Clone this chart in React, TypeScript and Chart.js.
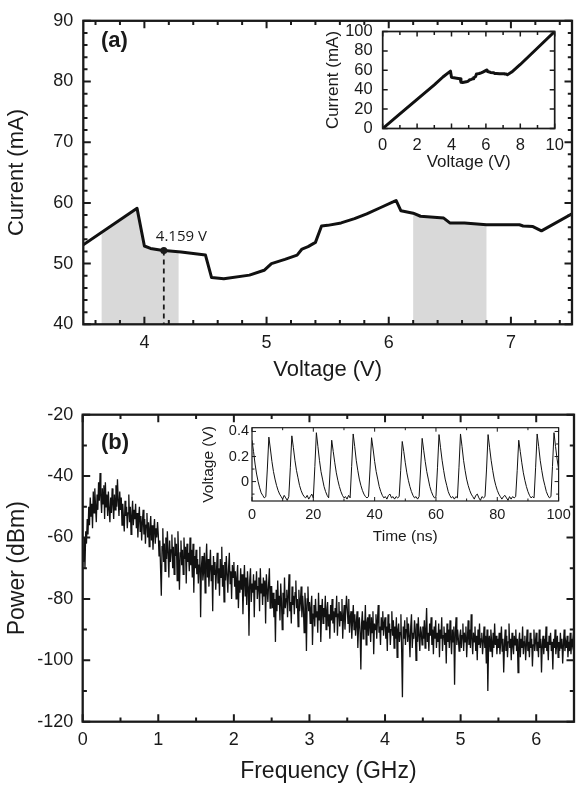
import React, { useEffect, useRef } from "react";
import { Chart, registerables } from "chart.js";

Chart.register(...registerables);

const FONT = '"Liberation Sans", Arial, Helvetica, sans-serif';
const INK = "#1a1a1a";

// ---------------- Panel (a): current vs voltage ----------------
const voltA = [3.5, 3.94, 4.0, 4.05, 4.14, 4.3, 4.5, 4.55, 4.65, 4.86, 4.98, 5.04, 5.15, 5.25, 5.29, 5.34, 5.4, 5.45, 5.5, 5.61, 5.72, 5.82, 5.93, 6.04, 6.06, 6.1, 6.2, 6.26, 6.45, 6.5, 6.62, 6.8, 7.07, 7.1, 7.18, 7.25, 7.5];
const currA = [53.1, 59.1, 52.9, 52.5, 52.2, 51.9, 51.4, 47.7, 47.5, 48.1, 48.9, 50.0, 50.7, 51.4, 52.4, 52.8, 53.5, 56.2, 56.3, 56.7, 57.4, 58.2, 59.2, 60.2, 60.4, 58.7, 58.3, 57.8, 57.5, 56.7, 56.7, 56.4, 56.4, 56.2, 56.1, 55.4, 58.2];
const markerVolt = 4.159;
const markerCurr = 52.15;
const markerLabel = "4.159 V";
const shadeFrom = [3.65, 6.2];
const shadeTo = [4.28, 6.8];
const xTicksA = [4, 5, 6, 7];
const yTicksA = [40, 50, 60, 70, 80, 90];

// inset of (a): full sweep 0–10 V
const insetVoltA = [0, 1, 2, 3, ...voltA, 8, 9, 10];
const insetCurrA = [0, 15, 30, 45, ...currA, 66, 83, 100];
const xTicksIA = [0, 2, 4, 6, 8, 10];
const yTicksIA = [0, 20, 40, 60, 80, 100];

// ---------------- Panel (b): power spectrum ----------------
const freqStep = 0.01; // GHz per sample
const powerB = [
  // 0.00 – 0.49
  -64, -68, -60, -70, -58, -62, -54, -59, -50, -56, -47, -53, -49, -57, -45, -52, -44, -50, -55, -46,
  -51, -42, -48, -39, -47, -52, -44, -49, -43, -54, -42, -50, -46, -53, -45, -51, -55, -47, -52, -44,
  -49, -54, -46, -51, -43, -50, -41, -48, -53, -45,
  // 0.50 – 0.99
  -51, -47, -56, -49, -54, -58, -48, -53, -50, -57, -52, -46, -55, -50, -59, -53, -48, -56, -51, -54,
  -49, -57, -52, -60, -54, -50, -58, -53, -61, -55, -51, -59, -54, -62, -56, -52, -60, -55, -63, -57,
  -53, -61, -56, -64, -58, -54, -62, -57, -60, -55,
  // 1.00 – 1.49
  -59, -66, -61, -70, -79, -63, -57, -68, -62, -71, -60, -67, -58, -65, -73, -61, -68, -64, -59, -70,
  -63, -72, -60, -66, -62, -74, -58, -67, -77, -65, -61, -69, -64, -72, -60, -67, -63, -75, -62, -68,
  -65, -71, -60, -69, -64, -73, -62, -78, -66, -70,
  // 1.50 – 1.99
  -64, -72, -67, -75, -69, -63, -86, -70, -66, -74, -71, -65, -78, -68, -62, -73, -67, -76, -70, -64,
  -74, -69, -84, -66, -72, -68, -77, -71, -65, -75, -70, -79, -67, -73, -63, -76, -69, -81, -68, -74,
  -66, -72, -78, -70, -65, -75, -71, -80, -69, -73,
  // 2.00 – 2.49
  -68, -76, -71, -80, -73, -69, -83, -74, -78, -70, -77, -72, -85, -75, -69, -79, -73, -82, -71, -76,
  -92, -74, -70, -81, -75, -78, -72, -86, -74, -77, -71, -80, -76, -73, -84, -70, -78, -75, -82, -73,
  -79, -74, -88, -72, -77, -81, -75, -70, -83, -76,
  // 2.50 – 2.99
  -76, -83, -78, -86, -80, -94, -77, -84, -74, -82, -79, -87, -75, -81, -90, -78, -85, -73, -83, -80,
  -77, -86, -79, -72, -84, -81, -88, -76, -82, -79, -85, -78, -74, -83, -80, -89, -77, -84, -81, -76,
  -86, -79, -83, -91, -78, -82, -97, -80, -76, -84,
  // 3.00 – 3.49
  -81, -88, -83, -79, -95, -85, -82, -89, -80, -86, -84, -91, -78, -87, -82, -94, -85, -80, -88, -83,
  -86, -79, -90, -84, -81, -89, -85, -93, -82, -87, -80, -88, -84, -91, -83, -86, -79, -92, -85, -81,
  -89, -84, -87, -80, -93, -86, -82, -90, -84, -79,
  // 3.50 – 3.99
  -83, -88, -80, -91, -86, -84, -93, -87, -82, -90, -85, -92, -88, -84, -96, -89, -86, -91, -103, -88,
  -84, -93, -87, -90, -82, -95, -88, -86, -92, -85, -89, -94, -86, -91, -84, -98, -88, -90, -85, -93,
  -87, -82, -91, -89, -95, -86, -90, -84, -92, -88,
  // 4.00 – 4.49
  -86, -93, -89, -97, -85, -91, -88, -95, -90, -84, -92, -87, -96, -89, -93, -86, -99, -90, -88, -94,
  -91, -85, -97, -112, -89, -93, -87, -95, -90, -86, -94, -88, -92, -99, -89, -85, -96, -91, -93, -87,
  -90, -100, -88, -94, -86, -92, -97, -89, -91, -95,
  // 4.50 – 4.99
  -89, -93, -87, -96, -90, -83, -94, -91, -97, -88, -92, -86, -95, -90, -98, -89, -93, -87, -96, -91,
  -94, -88, -99, -90, -93, -86, -97, -92, -89, -95, -91, -101, -88, -94, -90, -96, -87, -93, -98, -90,
  -94, -89, -108, -91, -86, -95, -90, -93, -97, -92,
  // 5.00 – 5.49
  -90, -96, -92, -88, -97, -91, -94, -89, -99, -93, -87, -95, -90, -96, -85, -93, -98, -91, -94, -89,
  -97, -92, -100, -90, -95, -88, -96, -93, -91, -98, -94, -89, -96, -92, -101, -90, -110, -95, -92, -97,
  -90, -94, -99, -91, -96, -88, -95, -92, -98, -93,
  // 5.50 – 5.99
  -96, -91, -98, -94, -89, -97, -93, -104, -95, -90, -97, -92, -99, -94, -88, -96, -93, -100, -91, -95,
  -98, -92, -95, -90, -97, -93, -104, -94, -91, -99, -93, -96, -89, -98, -94, -92, -100, -95, -90, -97,
  -94, -99, -91, -96, -93, -102, -95, -90, -97, -94,
  // 6.00 – 6.50
  -91, -97, -94, -99, -90, -96, -93, -104, -95, -92, -98, -93, -96, -89, -97, -94, -100, -92, -95, -91,
  -97, -94, -103, -93, -96, -90, -98, -95, -92, -99, -94, -97, -91, -96, -93, -101, -95, -90, -97, -94,
  -96, -92, -99, -94, -97, -91, -98, -93, -95, -92, -94,
];
const xTicksB = [0, 1, 2, 3, 4, 5, 6];
const yTicksB = [-120, -100, -80, -60, -40, -20];

// inset of (b): time trace
const timeStep = 0.5; // ns per sample
const voltIB = [
  0.33, 0.24, 0.14, 0.06, 0.0, -0.05, -0.09, -0.11, -0.13,
  -0.12, 0.10, 0.355, 0.26, 0.16, 0.08, 0.02, -0.03, -0.07, -0.10, -0.12,
  -0.14, -0.11, -0.13, -0.15, -0.12,
  0.11, 0.365, 0.27, 0.17, 0.09, 0.03, -0.03, -0.07, -0.10, -0.12,
  -0.13, -0.11, -0.14, -0.12, -0.10, -0.13,
  0.12, 0.39, 0.28, 0.17, 0.08, 0.02, -0.04, -0.08, -0.11,
  -0.13,
  0.10, 0.33, 0.24, 0.15, 0.07, 0.01, -0.04, -0.08, -0.11, -0.13,
  -0.12, -0.14, -0.11, -0.13,
  0.12, 0.38, 0.28, 0.17, 0.09, 0.02, -0.03, -0.07, -0.10, -0.12,
  -0.13, -0.12,
  0.10, 0.35, 0.26, 0.16, 0.08, 0.02, -0.04, -0.08, -0.11, -0.13,
  -0.12, -0.14, -0.11, -0.10, -0.13, -0.12, -0.14, -0.12, -0.13, -0.12,
  0.09, 0.32, 0.24, 0.15, 0.07, 0.01, -0.04, -0.08, -0.11, -0.13,
  -0.12, -0.14, -0.12,
  0.10, 0.345, 0.25, 0.16, 0.08, 0.02, -0.04, -0.08, -0.11, -0.13,
  -0.12,
  0.11, 0.375, 0.27, 0.17, 0.09, 0.02, -0.03, -0.08, -0.11, -0.13,
  -0.12, -0.14, -0.12, -0.13,
  0.11, 0.38, 0.28, 0.17, 0.09, 0.02, -0.03, -0.07, -0.10, -0.12,
  -0.14, -0.11, -0.10, -0.13, -0.15, -0.12, -0.13, -0.12,
  0.10, 0.375, 0.27, 0.17, 0.09, 0.02, -0.03, -0.07, -0.10, -0.12,
  -0.14, -0.12, -0.11, -0.13, -0.15, -0.12, -0.14, -0.12, -0.13, -0.12,
  0.09, 0.33, 0.24, 0.15, 0.07, 0.01, -0.04, -0.08, -0.11, -0.13,
  -0.12, -0.13,
  0.11, 0.38, 0.28, 0.17, 0.09, 0.02, -0.03, -0.08, -0.11, -0.13,
  -0.12,
  0.12, 0.39, 0.28, 0.18, 0.10,
];
const xTicksIB = [0, 20, 40, 60, 80, 100];
const yTicksIB = [0, 0.2, 0.4];

// ---------------- helpers ----------------
function steps(min: number, max: number, step: number, skip: number[]) {
  const out: number[] = [];
  const n = Math.round((max - min) / step);
  for (let i = 0; i <= n; i++) {
    const v = +(min + i * step).toFixed(6);
    if (!skip.some((s) => Math.abs(s - v) < 1e-6)) out.push(v);
  }
  return out;
}

type Area = { left: number; top: number; right: number; bottom: number };

function axis(o: {
  min: number; max: number; ticks: number[]; size: number; pad: number;
  fit: (s: any) => void; title: string; titleSize: number; titlePad: any;
}) {
  return {
    type: "linear",
    min: o.min,
    max: o.max,
    grid: { display: false, drawTicks: false },
    border: { display: false },
    ticks: {
      font: { family: FONT, size: o.size },
      color: INK,
      padding: o.pad,
      maxRotation: 0,
      autoSkip: false,
      callback: (v: any) => String(v),
    },
    afterBuildTicks: (s: any) => {
      s.ticks = o.ticks.map((v) => ({ value: v }));
    },
    afterFit: o.fit,
    title: {
      display: true,
      text: o.title,
      font: { family: FONT, size: o.titleSize },
      color: INK,
      padding: o.titlePad,
    },
  };
}

function framePlugin(f: {
  xMajor: number[]; xMinor: number[]; yMajor: number[]; yMinor: number[];
  major: number; minor: number; lineWidth: number; tickWidth: number;
}) {
  return {
    id: "frame",
    afterDatasetsDraw(chart: any) {
      const { ctx, chartArea: a } = chart;
      const xs = chart.scales.x;
      const ys = chart.scales.y;
      ctx.save();
      ctx.strokeStyle = INK;
      ctx.lineWidth = f.tickWidth;
      ctx.beginPath();
      const xt = (vals: number[], len: number) =>
        vals.forEach((v) => {
          const p = xs.getPixelForValue(v);
          ctx.moveTo(p, a.bottom);
          ctx.lineTo(p, a.bottom - len);
          ctx.moveTo(p, a.top);
          ctx.lineTo(p, a.top + len);
        });
      const yt = (vals: number[], len: number) =>
        vals.forEach((v) => {
          const p = ys.getPixelForValue(v);
          ctx.moveTo(a.left, p);
          ctx.lineTo(a.left + len, p);
          ctx.moveTo(a.right, p);
          ctx.lineTo(a.right - len, p);
        });
      xt(f.xMajor, f.major);
      xt(f.xMinor, f.minor);
      yt(f.yMajor, f.major);
      yt(f.yMinor, f.minor);
      ctx.stroke();
      ctx.lineWidth = f.lineWidth;
      ctx.strokeRect(a.left, a.top, a.right - a.left, a.bottom - a.top);
      ctx.restore();
    },
  };
}

function baseOptions(w: number, h: number, area: Area, x: any, y: any) {
  return {
    responsive: false,
    animation: false,
    devicePixelRatio: 1,
    events: [],
    layout: { padding: { left: 0, top: area.top, right: w - area.right, bottom: 0 } },
    plugins: { legend: { display: false }, tooltip: { enabled: false } },
    scales: { x, y },
  };
}

// ---------------- chart configs ----------------
const W_A = 576, H_A = 390;
const areaA: Area = { left: 83.3, top: 14.7, right: 574.3, bottom: 324.3 };

function configA(): any {
  const shade = {
    id: "shade",
    beforeDatasetsDraw(chart: any) {
      const { ctx, chartArea: a } = chart;
      const xs = chart.scales.x;
      const ys = chart.scales.y;
      shadeFrom.forEach((from, k) => {
        const x0 = xs.getPixelForValue(from);
        const x1 = xs.getPixelForValue(shadeTo[k]);
        ctx.save();
        ctx.beginPath();
        ctx.rect(x0, a.top, x1 - x0, a.bottom - a.top);
        ctx.clip();
        ctx.beginPath();
        ctx.moveTo(xs.getPixelForValue(voltA[0]), a.bottom);
        voltA.forEach((v, i) => ctx.lineTo(xs.getPixelForValue(v), ys.getPixelForValue(currA[i])));
        ctx.lineTo(xs.getPixelForValue(voltA[voltA.length - 1]), a.bottom);
        ctx.closePath();
        ctx.fillStyle = "#d9d9d9";
        ctx.fill();
        ctx.restore();
      });
    },
    afterDatasetsDraw(chart: any) {
      const { ctx } = chart;
      const xs = chart.scales.x;
      const ys = chart.scales.y;
      ctx.save();
      ctx.fillStyle = INK;
      ctx.font = '15px "Open Sans", "Liberation Sans", sans-serif';
      ctx.textAlign = "left";
      ctx.textBaseline = "middle";
      ctx.fillText(markerLabel, xs.getPixelForValue(markerVolt) - 8, ys.getPixelForValue(markerCurr) - 14);
      ctx.font = `bold 22px ${FONT}`;
      ctx.fillText("(a)", 101, 41);
      ctx.restore();
    },
  };
  return {
    type: "line",
    data: {
      datasets: [
        {
          data: [
            { x: markerVolt, y: markerCurr },
            { x: markerVolt, y: 40 },
          ],
          borderColor: INK,
          borderWidth: 1.8,
          borderDash: [5, 4],
          pointRadius: [3.5, 0],
          pointBackgroundColor: INK,
          pointBorderWidth: 0,
        },
        {
          data: voltA.map((v, i) => ({ x: v, y: currA[i] })),
          borderColor: "#111",
          borderWidth: 3,
          pointRadius: 0,
          tension: 0,
          borderJoinStyle: "round",
        },
      ],
    },
    options: baseOptions(
      W_A, H_A, areaA,
      axis({ min: 3.5, max: 7.5, ticks: xTicksA, size: 18, pad: 7.6, fit: (s) => { s.height = H_A - areaA.bottom; }, title: "Voltage (V)", titleSize: 22, titlePad: { top: 0, bottom: 6.8 } }),
      axis({ min: 40, max: 90, ticks: yTicksA, size: 18, pad: 10, fit: (s) => { s.width = areaA.left; }, title: "Current (mA)", titleSize: 22, titlePad: { top: 3.3, bottom: 0 } }),
    ),
    plugins: [
      shade,
      framePlugin({
        xMajor: xTicksA, xMinor: steps(3.6, 7.4, 0.2, xTicksA),
        yMajor: yTicksA, yMinor: steps(42, 88, 2, yTicksA),
        major: 7.5, minor: 4.2, lineWidth: 2.3, tickWidth: 2,
      }),
    ],
  };
}

const W_IA = 276, H_IA = 180;
const areaIA: Area = { left: 82.7, top: 21.5, right: 254.7, bottom: 118.5 };

function configIA(): any {
  return {
    type: "line",
    data: {
      datasets: [
        {
          data: insetVoltA.map((v, i) => ({ x: v, y: insetCurrA[i] })),
          borderColor: "#111",
          borderWidth: 3,
          pointRadius: 0,
          tension: 0,
          borderJoinStyle: "round",
        },
      ],
    },
    options: baseOptions(
      W_IA, H_IA, areaIA,
      axis({ min: 0, max: 10, ticks: xTicksIA, size: 16.5, pad: 6.6, fit: (s) => { s.height = H_IA - areaIA.bottom; }, title: "Voltage (V)", titleSize: 17, titlePad: { top: 0, bottom: 17.8 } }),
      axis({ min: 0, max: 100, ticks: yTicksIA, size: 16.5, pad: 10, fit: (s) => { s.width = areaIA.left; }, title: "Current (mA)", titleSize: 17, titlePad: { top: 22.8, bottom: 0 } }),
    ),
    plugins: [
      framePlugin({
        xMajor: xTicksIA, xMinor: steps(1, 9, 2, []),
        yMajor: yTicksIA, yMinor: [],
        major: 5, minor: 3.5, lineWidth: 1.7, tickWidth: 1.5,
      }),
    ],
  };
}

const W_B = 576, H_B = 396, TOP_B = 392;
const areaB: Area = { left: 82.7, top: 22.7, right: 574, bottom: 329.7 };

function configB(): any {
  const label = {
    id: "labelB",
    afterDatasetsDraw(chart: any) {
      const { ctx } = chart;
      ctx.save();
      ctx.fillStyle = INK;
      ctx.font = `bold 22px ${FONT}`;
      ctx.textAlign = "left";
      ctx.textBaseline = "middle";
      ctx.fillText("(b)", 101, 443 - TOP_B);
      ctx.restore();
    },
  };
  return {
    type: "line",
    data: {
      datasets: [
        {
          data: powerB.map((p, i) => ({ x: i * freqStep, y: p })),
          borderColor: "#111",
          borderWidth: 1.3,
          pointRadius: 0,
          tension: 0,
        },
      ],
    },
    options: baseOptions(
      W_B, H_B, areaB,
      axis({ min: 0, max: 6.5, ticks: xTicksB, size: 18, pad: 7.5, fit: (s) => { s.height = H_B - areaB.bottom; }, title: "Frequency (GHz)", titleSize: 23, titlePad: { top: 0, bottom: 2.5 } }),
      axis({ min: -120, max: -20, ticks: yTicksB, size: 18, pad: 9.5, fit: (s) => { s.width = areaB.left; }, title: "Power (dBm)", titleSize: 23, titlePad: { top: 3.7, bottom: 0 } }),
    ),
    plugins: [
      label,
      framePlugin({
        xMajor: xTicksB, xMinor: steps(0.5, 6.5, 1, []),
        yMajor: yTicksB, yMinor: steps(-110, -30, 20, []),
        major: 7.5, minor: 4.2, lineWidth: 2.3, tickWidth: 2,
      }),
    ],
  };
}

const W_IB = 386, H_IB = 140, LEFT_IB = 190, TOP_IB = 415;
const areaIB: Area = { left: 62, top: 12.7, right: 370.6, bottom: 86 };

function configIB(): any {
  return {
    type: "line",
    data: {
      datasets: [
        {
          data: voltIB.map((v, i) => ({ x: i * timeStep, y: v })),
          borderColor: "#111",
          borderWidth: 1,
          pointRadius: 0,
          tension: 0,
        },
      ],
    },
    options: baseOptions(
      W_IB, H_IB, areaIB,
      axis({ min: 0, max: 100, ticks: xTicksIB, size: 14.5, pad: 5.3, fit: (s) => { s.height = H_IB - areaIB.bottom; }, title: "Time (ns)", titleSize: 15.5, titlePad: { top: 0, bottom: 9.2 } }),
      axis({ min: -0.155, max: 0.43, ticks: yTicksIB, size: 14.5, pad: 3, fit: (s) => { s.width = areaIB.left; }, title: "Voltage (V)", titleSize: 15.5, titlePad: { top: 9.2, bottom: 0 } }),
    ),
    plugins: [
      framePlugin({
        xMajor: xTicksIB, xMinor: steps(10, 90, 20, []),
        yMajor: yTicksIB, yMinor: [-0.1, 0.1, 0.3],
        major: 4, minor: 2.5, lineWidth: 1.2, tickWidth: 1,
      }),
    ],
  };
}

export default function App() {
  const refA = useRef<HTMLCanvasElement>(null);
  const refIA = useRef<HTMLCanvasElement>(null);
  const refB = useRef<HTMLCanvasElement>(null);
  const refIB = useRef<HTMLCanvasElement>(null);

  useEffect(() => {
    const charts = [
      new Chart(refA.current as HTMLCanvasElement, configA()),
      new Chart(refB.current as HTMLCanvasElement, configB()),
      new Chart(refIA.current as HTMLCanvasElement, configIA()),
      new Chart(refIB.current as HTMLCanvasElement, configIB()),
    ];
    return () => charts.forEach((c) => c.destroy());
  }, []);

  const abs = (left: number, top: number, w: number, h: number): React.CSSProperties => ({
    position: "absolute", left, top, width: w, height: h, display: "block",
  });

  return (
    <div style={{ position: "absolute", left: 0, top: 0, width: 576, height: 788, background: "#fff", overflow: "hidden" }}>
      <canvas ref={refA} width={W_A} height={H_A} style={abs(0, 0, W_A, H_A)} />
      <canvas ref={refB} width={W_B} height={H_B} style={abs(0, TOP_B, W_B, H_B)} />
      <canvas ref={refIA} width={W_IA} height={H_IA} style={abs(300, 10, W_IA, H_IA)} />
      <canvas ref={refIB} width={W_IB} height={H_IB} style={abs(LEFT_IB, TOP_IB, W_IB, H_IB)} />
    </div>
  );
}
